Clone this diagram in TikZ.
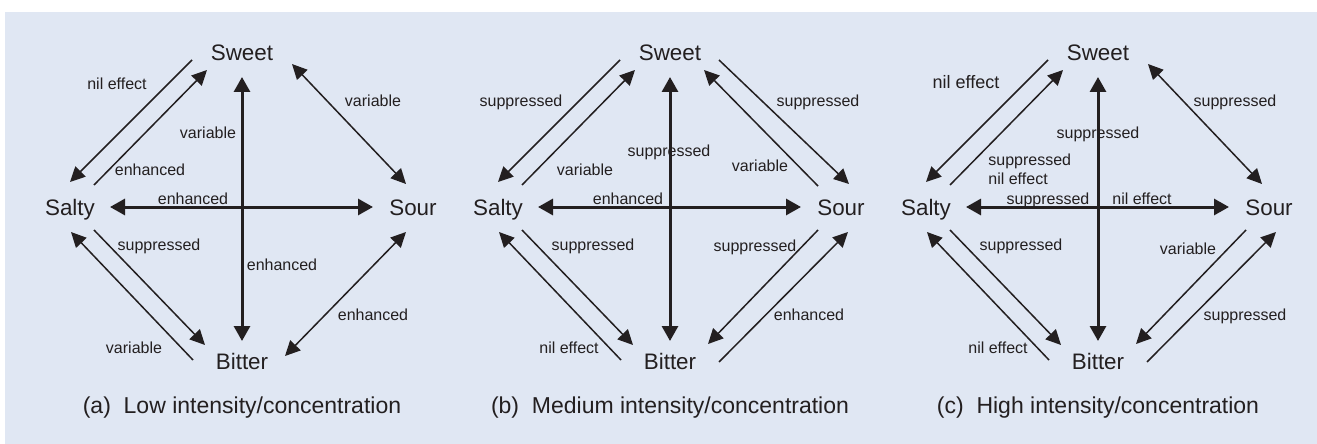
\documentclass[tikz,border=0pt]{standalone}
\usepackage{fontspec}
\setmainfont{Liberation Sans}
\usepackage{tikz}
\usetikzlibrary{arrows.meta}
\definecolor{panelbg}{RGB}{224,231,243}
\definecolor{ink}{RGB}{35,31,32}
\tikzstyle{taste} = [font=\fontsize{11.2}{13}\selectfont, text=ink, inner sep=0pt, text height=8pt, text depth=0pt]
\tikzstyle{effect} = [font=\fontsize{8}{9.5}\selectfont, text=ink, inner sep=0pt, text height=5.8pt, text depth=0pt]
\tikzstyle{caption} = [font=\fontsize{11.5}{14}\selectfont, text=ink, inner sep=0pt, anchor=base]
\tikzstyle{crossarrow} = [draw=ink, line width=1.5pt, {Triangle[length=7.5pt,width=8pt]}-{Triangle[length=7.5pt,width=8pt]}]
\tikzstyle{arrow} = [draw=ink, line width=0.75pt, -{Triangle[length=7.5pt,width=7.2pt]}]
\tikzstyle{twoway} = [draw=ink, line width=0.75pt, {Triangle[length=7.5pt,width=7.2pt]}-{Triangle[length=7.5pt,width=7.2pt]}]

\begin{document}
\begin{tikzpicture}[x=0.5pt, y=-0.5pt]
    \useasboundingbox (0,0) rectangle (1317,444);
    \fill[panelbg] (5,12) rectangle (1317,444);

    % (a) low intensity
    \begin{scope}[shift={(242,0)}]
        \node (sweetA) [taste] at (0,53) {Sweet};
        \node (saltyA) [taste] at (-172,207) {Salty};
        \node (sourA) [taste] at (171,207) {Sour};
        \node (bitterA) [taste] at (0,361) {Bitter};
        \node (capA) [caption] at (0,413) {(a)~~Low intensity/concentration};

        \draw [crossarrow] ([shift={(0,24)}]sweetA.center) -- ([shift={(0,-20)}]bitterA.center);
        \draw [crossarrow] ([shift={(40,0)}]saltyA.center) -- ([shift={(-40,0)}]sourA.center);
        \draw [arrow] ([shift={(-50,7)}]sweetA.center) -- ([shift={(0,-25)}]saltyA.center);
        \draw [arrow] ([shift={(24,-22)}]saltyA.center) -- ([shift={(-35,17)}]sweetA.center);
        \draw [twoway] ([shift={(50,11)}]sweetA.center) -- ([shift={(-7,-23)}]sourA.center);
        \draw [arrow] ([shift={(24,23)}]saltyA.center) -- ([shift={(-37,-16)}]bitterA.center);
        \draw [arrow] ([shift={(-49,-1)}]bitterA.center) -- ([shift={(1,25)}]saltyA.center);
        \draw [twoway] ([shift={(-7,25)}]sourA.center) -- ([shift={(43,-5)}]bitterA.center);

        \node (nilA) [effect] at (-125,84) {nil effect};
        \node (enhSaA) [effect] at (-92,170) {enhanced};
        \node (varVA) [effect] at (-34,133) {variable};
        \node (varSoA) [effect] at (131,101) {variable};
        \node (enhHA) [effect] at (-49,199) {enhanced};
        \node (supBiA) [effect] at (-83,245) {suppressed};
        \node (enhVA) [effect] at (40,265) {enhanced};
        \node (enhBiA) [effect] at (131,315) {enhanced};
        \node (varBiA) [effect] at (-108,348) {variable};
    \end{scope}

    % (b) medium intensity
    \begin{scope}[shift={(670,0)}]
        \node (sweetB) [taste] at (0,53) {Sweet};
        \node (saltyB) [taste] at (-172,207) {Salty};
        \node (sourB) [taste] at (171,207) {Sour};
        \node (bitterB) [taste] at (0,361) {Bitter};
        \node (capB) [caption] at (0,413) {(b)~~Medium intensity/concentration};

        \draw [crossarrow] ([shift={(0,24)}]sweetB.center) -- ([shift={(0,-20)}]bitterB.center);
        \draw [crossarrow] ([shift={(40,0)}]saltyB.center) -- ([shift={(-40,0)}]sourB.center);
        \draw [arrow] ([shift={(-50,7)}]sweetB.center) -- ([shift={(0,-25)}]saltyB.center);
        \draw [arrow] ([shift={(24,-22)}]saltyB.center) -- ([shift={(-35,17)}]sweetB.center);
        \draw [arrow] ([shift={(49,7)}]sweetB.center) -- ([shift={(8,-23)}]sourB.center);
        \draw [arrow] ([shift={(-23,-21)}]sourB.center) -- ([shift={(34,17)}]sweetB.center);
        \draw [arrow] ([shift={(24,23)}]saltyB.center) -- ([shift={(-37,-16)}]bitterB.center);
        \draw [arrow] ([shift={(-49,-1)}]bitterB.center) -- ([shift={(1,25)}]saltyB.center);
        \draw [arrow] ([shift={(-23,23)}]sourB.center) -- ([shift={(38,-17)}]bitterB.center);
        \draw [arrow] ([shift={(49,1)}]bitterB.center) -- ([shift={(7,25)}]sourB.center);

        \node (supSwB) [effect] at (-149,101) {suppressed};
        \node (varSaB) [effect] at (-85,170) {variable};
        \node (supVB) [effect] at (-1,151) {suppressed};
        \node (varSoB) [effect] at (90,166) {variable};
        \node (supSoB) [effect] at (148,101) {suppressed};
        \node (enhHB) [effect] at (-42,199) {enhanced};
        \node (supBiB) [effect] at (-77,245) {suppressed};
        \node (supSBB) [effect] at (85,246) {suppressed};
        \node (enhBiB) [effect] at (139,315) {enhanced};
        \node (nilBiB) [effect] at (-101,348) {nil effect};
    \end{scope}

    % (c) high intensity
    \begin{scope}[shift={(1098,0)}]
        \node (sweetC) [taste] at (0,53) {Sweet};
        \node (saltyC) [taste] at (-172,207) {Salty};
        \node (sourC) [taste] at (171,207) {Sour};
        \node (bitterC) [taste] at (0,361) {Bitter};
        \node (capC) [caption] at (0,413) {(c)~~High intensity/concentration};

        \draw [crossarrow] ([shift={(0,24)}]sweetC.center) -- ([shift={(0,-20)}]bitterC.center);
        \draw [crossarrow] ([shift={(40,0)}]saltyC.center) -- ([shift={(-40,0)}]sourC.center);
        \draw [arrow] ([shift={(-50,7)}]sweetC.center) -- ([shift={(0,-25)}]saltyC.center);
        \draw [arrow] ([shift={(24,-22)}]saltyC.center) -- ([shift={(-35,17)}]sweetC.center);
        \draw [twoway] ([shift={(50,11)}]sweetC.center) -- ([shift={(-7,-23)}]sourC.center);
        \draw [arrow] ([shift={(24,23)}]saltyC.center) -- ([shift={(-37,-16)}]bitterC.center);
        \draw [arrow] ([shift={(-49,-1)}]bitterC.center) -- ([shift={(1,25)}]saltyC.center);
        \draw [arrow] ([shift={(-23,23)}]sourC.center) -- ([shift={(38,-17)}]bitterC.center);
        \draw [arrow] ([shift={(49,1)}]bitterC.center) -- ([shift={(7,25)}]sourC.center);

        \node (nilSwC) [effect, font=\fontsize{9}{11}\selectfont] at (-132,83) {nil effect};
        \node (supVC) [effect] at (0,133) {suppressed};
        \node (supSaC) [effect, anchor=west] at (-110,160) {suppressed};
        \node (nilSaC) [effect, anchor=west] at (-110,179) {nil effect};
        \node (supSoC) [effect] at (137,101) {suppressed};
        \node (supHC) [effect] at (-50,199) {suppressed};
        \node (nilHC) [effect] at (44,199) {nil effect};
        \node (supBiC) [effect] at (-77,245) {suppressed};
        \node (varBiC) [effect] at (90,249) {variable};
        \node (supSBC) [effect] at (147,315) {suppressed};
        \node (nilBiC) [effect] at (-100,348) {nil effect};
    \end{scope}

\end{tikzpicture}
\end{document}
